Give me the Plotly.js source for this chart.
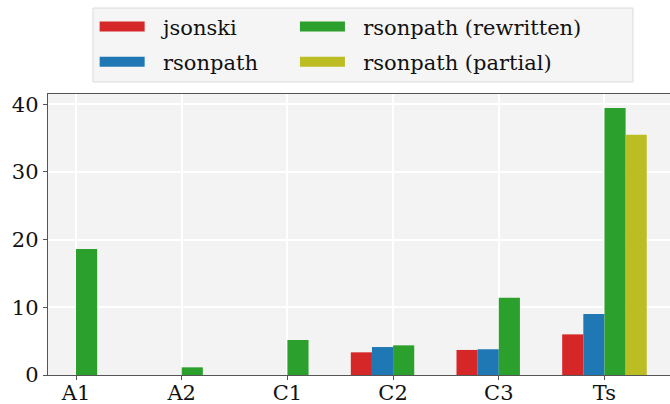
<!DOCTYPE html>
<html>
<head>
<meta charset="utf-8">
<script src="https://cdn.plot.ly/plotly-3.0.1.min.js"></script>
<style>
  html, body { margin: 0; padding: 0; background: #fff; }
  #chart { width: 670px; height: 404px; }
</style>
</head>
<body>
<div id="chart"></div>
<script>
  var categories = ['A1', 'A2', 'C1', 'C2', 'C3', 'Ts'];
  var jsonski    = [null, null, null, 3.35, 3.7, 6.0];
  var rsonpath   = [null, null, null, 4.13, 3.8, 9.0];
  var rewritten  = [18.6, 1.13, 5.17, 4.38, 11.4, 39.45];
  var partial    = [null, null, null, null, null, 35.5];

  var names  = ['jsonski', 'rsonpath', 'rsonpath (rewritten)', 'rsonpath (partial)'];
  var colors = ['#d62728', '#1f77b4', '#2ca02c', '#bcbd22'];
  var series = [jsonski, rsonpath, rewritten, partial];
  // two legend columns, filled top to bottom like matplotlib
  var legendOf = ['legend', 'legend', 'legend2', 'legend2'];

  var xs = categories.map(function (c, i) { return i; });
  var data = [];

  series.forEach(function (vals, i) {
    data.push({
      type: 'bar',
      x: xs,
      y: vals,
      width: 0.2,
      offset: -0.4 + 0.2 * i,
      marker: {color: colors[i], line: {width: 0}},
      showlegend: false,
      hoverinfo: 'skip'
    });
  });

  // legend proxies, wide patches like the original
  series.forEach(function (vals, i) {
    data.push({
      type: 'scatter',
      mode: 'lines',
      x: [null],
      y: [null],
      name: '\u00a0\u00a0' + names[i],
      legend: legendOf[i],
      legendgroup: 'g' + i,
      line: {color: colors[i], width: 13}
    });
  });

  var font = {family: 'DejaVu Serif, serif', size: 21, color: '#111'};
  var legFont = {family: 'DejaVu Serif, serif', size: 21, color: '#111'};

  function legendAt(x) {
    return {
      orientation: 'v',
      x: x,
      xanchor: 'left',
      y: 1.312,
      yanchor: 'top',
      bgcolor: 'rgba(0,0,0,0)',
      borderwidth: 0,
      font: legFont,
      tracegroupgap: 5,
      itemwidth: 45
    };
  }

  var layout = {
    width: 670,
    height: 404,
    margin: {l: 48, r: 0, t: 94, b: 29},
    paper_bgcolor: '#ffffff',
    plot_bgcolor: '#f3f3f3',
    font: font,
    barmode: 'overlay',
    showlegend: true,
    legend: legendAt(0.075),
    legend2: legendAt(0.397),
    shapes: [{
      type: 'rect',
      xref: 'paper', yref: 'paper',
      x0: 0.0723, x1: 0.9405, y0: 1.0427, y1: 1.306,
      fillcolor: '#f5f5f5',
      line: {color: '#dcdcdc', width: 1},
      layer: 'above'
    }],
    xaxis: {
      range: [-0.265, 5.62],
      tickvals: xs,
      ticktext: categories,
      showgrid: true,
      gridcolor: '#ffffff',
      gridwidth: 2,
      zeroline: false,
      showline: true,
      mirror: true,
      linecolor: '#555555',
      linewidth: 1.3,
      ticks: 'outside',
      ticklen: 4,
      tickcolor: '#555555',
      ticklabelstandoff: -6,
      tickfont: font
    },
    yaxis: {
      range: [0, 41.5],
      tickvals: [0, 10, 20, 30, 40],
      showgrid: true,
      gridcolor: '#ffffff',
      gridwidth: 2,
      zeroline: false,
      showline: true,
      linecolor: '#555555',
      linewidth: 1.3,
      ticks: 'outside',
      ticklen: 4,
      tickcolor: '#555555',
      tickfont: font
    }
  };

  var config = {
    responsive: false,
    displaylogo: false,
    displayModeBar: false,
    staticPlot: true
  };

  Plotly.newPlot('chart', data, layout, config);
</script>
</body>
</html>
